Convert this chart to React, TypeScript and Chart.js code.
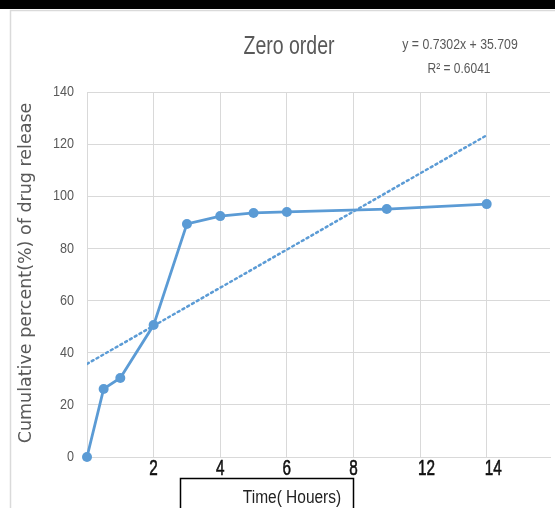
import React, { useEffect, useRef } from "react";
import { Chart, registerables } from "chart.js";

Chart.register(...registerables);

// Data
const timeX = [0, 0.5, 1, 2, 3, 4, 5, 6, 9, 12];
const releasePct = [0, 26.1, 30.3, 50.6, 89.4, 92.4, 93.6, 94.0, 95.1, 97.0];
const trendX = [0, 12];
const trendY = [35.7, 123.4];
const xTickValues = [0, 2, 4, 6, 8, 10, 12];
const xTickLabels = ["", "2", "4", "6", "8", "12", "14"];
const yTickValues = [0, 20, 40, 60, 80, 100, 120, 140];
const chartTitle = "Zero order";
const equationLines = ["y = 0.7302x + 35.709", "R² = 0.6041"];
const yTitle = "Cumulative percent(%) of drug release";
const xTitle = "Time( Houers)";

const SANS = "'Liberation Sans', Arial, sans-serif";
const BLUE = "#5b9bd5";

function drawText(
  ctx: CanvasRenderingContext2D,
  text: string,
  x: number,
  y: number,
  size: number,
  sx: number,
  color: string,
  align: CanvasTextAlign = "center",
  weight = "normal",
  family = SANS,
  stroke = 0
) {
  ctx.save();
  ctx.translate(x, y);
  ctx.scale(sx, 1);
  ctx.font = `${weight} ${size}px ${family}`;
  ctx.fillStyle = color;
  ctx.textAlign = align;
  ctx.textBaseline = "middle";
  ctx.fillText(text, 0, 0);
  if (stroke > 0) {
    ctx.strokeStyle = color;
    ctx.lineWidth = stroke;
    ctx.strokeText(text, 0, 0);
  }
  ctx.restore();
}

const decorPlugin = {
  id: "decor",
  beforeDraw(chart: any) {
    const ctx = chart.ctx;
    ctx.save();
    ctx.fillStyle = "#ffffff";
    ctx.fillRect(0, 0, chart.width, chart.height);
    ctx.fillStyle = "#000000";
    ctx.fillRect(0, 0, chart.width, 9);
    ctx.strokeStyle = "#dadada";
    ctx.lineWidth = 1.5;
    ctx.beginPath();
    ctx.moveTo(10.5, chart.height);
    ctx.lineTo(10.5, 10.5);
    ctx.lineTo(chart.width, 10.5);
    ctx.stroke();
    ctx.restore();
  },
  afterDraw(chart: any) {
    const ctx = chart.ctx as CanvasRenderingContext2D;
    const xs = chart.scales.x;
    const ys = chart.scales.y;
    // tick labels (condensed look, positioned by the chart scales)
    yTickValues.forEach((v) => {
      drawText(ctx, String(v), 74, ys.getPixelForValue(v), 15, 0.84, "#595959", "right");
    });
    xTickValues.forEach((v, i) => {
      const lbl = xTickLabels[i];
      if (!lbl) return;
      const px = xs.getPixelForValue(v);
      if (lbl.length > 1) drawText(ctx, lbl, px - 2, 469, 22.5, 0.68, "#111111", "left", "normal", SANS, 0.6);
      else drawText(ctx, lbl, px, 469, 22.5, 0.68, "#111111", "center", "normal", SANS, 0.6);
    });
    // title
    drawText(ctx, chartTitle, 289, 47, 26, 0.75, "#595959");
    // equation
    drawText(ctx, equationLines[0], 460, 45, 15, 0.82, "#595959");
    drawText(ctx, equationLines[1], 459, 69, 15, 0.8, "#595959");
    // y title
    ctx.save();
    ctx.translate(26, 273);
    ctx.rotate(-Math.PI / 2);
    ctx.font = "17.5px 'DejaVu Sans', Verdana, sans-serif";
    ctx.fillStyle = "#595959";
    ctx.textAlign = "center";
    ctx.textBaseline = "middle";
    ctx.fillText(yTitle, 0, 0);
    ctx.restore();
    // x title box
    ctx.save();
    ctx.strokeStyle = "#000000";
    ctx.lineWidth = 1.5;
    ctx.beginPath();
    ctx.moveTo(180.5, chart.height);
    ctx.lineTo(180.5, 478.5);
    ctx.lineTo(353.5, 478.5);
    ctx.lineTo(353.5, chart.height);
    ctx.stroke();
    ctx.restore();
    drawText(ctx, xTitle, 292, 498, 18, 0.86, "#222222");
  },
};

export default function App() {
  const ref = useRef<HTMLCanvasElement | null>(null);
  useEffect(() => {
    if (!ref.current) return;
    const chart = new Chart(ref.current, {
      type: "scatter",
      data: {
        datasets: [
          {
            label: "release",
            data: timeX.map((x, i) => ({ x, y: releasePct[i] })),
            showLine: true,
            borderColor: BLUE,
            backgroundColor: BLUE,
            borderWidth: 2.8,
            pointRadius: 5,
            pointBorderWidth: 0,
            clip: false,
            order: 1,
          },
          {
            label: "trend",
            data: trendX.map((x, i) => ({ x, y: trendY[i] })),
            showLine: true,
            borderColor: BLUE,
            borderWidth: 2.5,
            borderDash: [2, 3.5],
            borderCapStyle: "round",
            pointRadius: 0,
            order: 2,
          },
        ],
      },
      options: {
        responsive: false,
        animation: false,
        layout: { padding: { left: 0, top: 92, right: 0, bottom: 0 } },
        plugins: { legend: { display: false }, tooltip: { enabled: false }, title: { display: false } },
        scales: {
          x: {
            type: "linear",
            min: 0,
            max: 13.9,
            afterBuildTicks(scale: any) {
              scale.ticks = xTickValues.map((v) => ({ value: v }));
            },
            afterFit(scale: any) {
              scale.height = 51;
            },
            ticks: {
              autoSkip: false,
              maxRotation: 0,
              color: "rgba(0,0,0,0)",
              font: { size: 12 },
            },
            grid: { color: "#d9d9d9", lineWidth: 1, drawTicks: false },
            border: { color: "#d9d9d9" },
          },
          y: {
            min: 0,
            max: 140,
            afterFit(scale: any) {
              scale.width = 87;
            },
            ticks: {
              stepSize: 20,
              color: "rgba(0,0,0,0)",
              font: { size: 12 },
            },
            grid: { color: "#d9d9d9", lineWidth: 1, drawTicks: false },
            border: { color: "#d9d9d9" },
          },
        },
      },
      plugins: [decorPlugin],
    } as any);
    return () => chart.destroy();
  }, []);
  return (
    <div style={{ position: "fixed", left: 0, top: 0, width: 555, height: 508 }}>
      <canvas ref={ref} width={555} height={508} style={{ display: "block" }} />
    </div>
  );
}
